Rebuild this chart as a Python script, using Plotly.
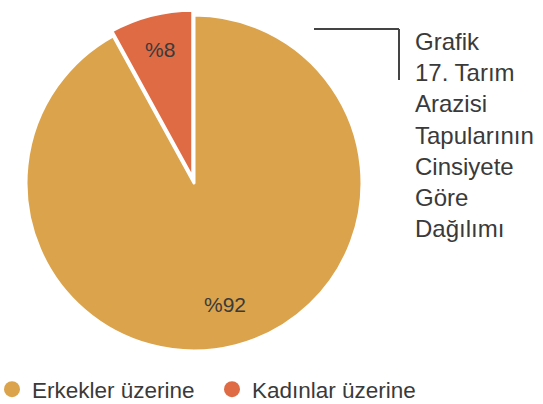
import math
import plotly.graph_objects as go

categories = ["Erkekler üzerine", "Kadınlar üzerine"]
values = [92, 8]
labels_text = ["%92", "%8"]
colors = ["#DBA34B", "#DF6B45"]
title_lines = ["Grafik", "17. Tarım", "Arazisi", "Tapularının", "Cinsiyete", "Göre", "Dağılımı"]

W, H = 543, 404
FONT = "Liberation Sans"
PULL = [0, 0.03]
DOM_X = [21 / W, 367 / W]
DOM_Y = [1 - 356 / H, 1 - 10 / H]

fig = go.Figure()
fig.add_trace(go.Pie(
    labels=categories,
    values=values,
    textinfo="none",
    marker=dict(colors=colors, line=dict(color="white", width=3)),
    sort=False,
    direction="clockwise",
    rotation=0,
    pull=PULL,
    showlegend=False,
    hoverinfo="label+percent",
    domain=dict(x=DOM_X, y=DOM_Y),
))

# slice labels placed along each slice's bisector (derived from the values)
cx_px = (DOM_X[0] + DOM_X[1]) / 2 * W
cy_px = (1 - (DOM_Y[0] + DOM_Y[1]) / 2) * H
r_px = (DOM_X[1] - DOM_X[0]) * W / 2 / (1 + max(PULL))
total = sum(values)
cum = 0
label_frac = [0.745, 0.79]
for v, t, p, f in zip(values, labels_text, PULL, label_frac):
    theta = math.radians(360 * (cum + v / 2) / total)
    cum += v
    d = r_px * (f + p)
    x = cx_px + d * math.sin(theta)
    y = cy_px - d * math.cos(theta)
    fig.add_annotation(text=t, xref="paper", yref="paper", x=x / W, y=1 - y / H,
                       xanchor="center", yanchor="middle", showarrow=False,
                       font=dict(family=FONT, size=21, color="#3a3a3a"))

for name, col in zip(categories, colors):
    fig.add_trace(go.Scatter(
        x=[None], y=[None], mode="markers", name=name,
        marker=dict(color=col, size=18, symbol="circle"),
    ))

fig.add_annotation(
    text="<br>".join(title_lines),
    xref="paper", yref="paper", x=413 / W, y=1 - 26 / H,
    xanchor="left", yanchor="top", align="left", showarrow=False,
    font=dict(family=FONT, size=24, color="#3a3a3a"),
)

fig.add_shape(type="line", xref="paper", yref="paper",
              x0=314 / W, x1=399 / W, y0=1 - 29 / H, y1=1 - 29 / H,
              line=dict(color="#444444", width=2))
fig.add_shape(type="line", xref="paper", yref="paper",
              x0=399 / W, x1=399 / W, y0=1 - 29 / H, y1=1 - 80 / H,
              line=dict(color="#444444", width=2))

fig.update_layout(
    width=W, height=H,
    margin=dict(l=0, r=0, t=0, b=0, autoexpand=False),
    paper_bgcolor="white", plot_bgcolor="white",
    xaxis=dict(visible=False), yaxis=dict(visible=False),
    legend=dict(orientation="h", x=0, y=1 - 368 / H, xanchor="left", yanchor="top",
                indentation=-8,
                font=dict(family=FONT, size=22.5, color="#3a3a3a"),
                itemsizing="trace", tracegroupgap=0, bgcolor="rgba(0,0,0,0)",
                entrywidth=183, entrywidthmode="pixels"),
)

fig.write_html("out.html", config={"displayModeBar": False},
               post_script="document.body.style.margin='0';")
